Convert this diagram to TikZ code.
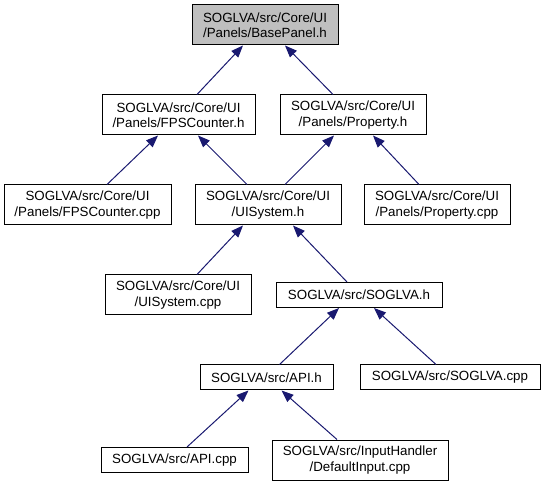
\documentclass[tikz,border=0pt]{standalone}
\usepackage{fontspec}
\setmainfont{Liberation Sans}
\usetikzlibrary{arrows.meta,calc}
\definecolor{edgeblue}{HTML}{191970}
\definecolor{basegray}{HTML}{BFBFBF}
\tikzset{
  box/.style={draw=black, line width=0.75pt, fill=white, align=center,
    inner sep=0pt, font=\fontsize{10}{11.5}\selectfont},
  two/.style={minimum height=30pt},
  one/.style={minimum height=18.75pt},
  bw/.style={minimum width=#1*0.75pt},
  edge/.style={draw=edgeblue, line width=0.75pt,
    -{Triangle[length=9pt,width=7pt,fill=edgeblue]}}
}
\begin{document}
\begin{tikzpicture}[x=0.75pt,y=-0.75pt]
\useasboundingbox (0,0) rectangle (546,484);
% rank 1
\node[box,two,bw=146,fill=basegray] (base) at (265,25) {SOGLVA/src/Core/UI\\/Panels/BasePanel.h};
% rank 2
\node[box,two,bw=153] (fpsh) at (178.5,115) {SOGLVA/src/Core/UI\\/Panels/FPSCounter.h};
\node[box,two,bw=146] (proph) at (353,115) {SOGLVA/src/Core/UI\\/Panels/Property.h};
% rank 3
\node[box,two,bw=167] (fpscpp) at (87.5,205) {SOGLVA/src/Core/UI\\/Panels/FPSCounter.cpp};
\node[box,two,bw=146] (uish) at (268,205) {SOGLVA/src/Core/UI\\/UISystem.h};
\node[box,two,bw=146] (propcpp) at (437,205) {SOGLVA/src/Core/UI\\/Panels/Property.cpp};
% rank 4
\node[box,two,bw=146] (uicpp) at (178,295) {SOGLVA/src/Core/UI\\/UISystem.cpp};
\node[box,one,bw=166] (sogh) at (359,295) {SOGLVA/src/SOGLVA.h};
% rank 5
\node[box,one,bw=133] (apih) at (266.5,377.5) {SOGLVA/src/API.h};
\node[box,one,bw=180] (sogcpp) at (450,377.5) {SOGLVA/src/SOGLVA.cpp};
% rank 6
\node[box,one,bw=147] (apicpp) at (174.5,460) {SOGLVA/src/API.cpp};
\node[box,two,bw=176] (definput) at (360,460) {SOGLVA/src/InputHandler\\/DefaultInput.cpp};
% edges (child -> parent)
\draw[edge] ($(fpsh.north)+(18.5,0)$) -- ($(base.south)+(-22,0)$);
\draw[edge] ($(proph.north)+(-20,0)$) -- ($(base.south)+(20,0)$);
\draw[edge] ($(fpscpp.north)+(19.5,0)$) -- ($(fpsh.south)+(-20.5,0)$);
\draw[edge] ($(uish.north)+(-21,0)$) -- ($(fpsh.south)+(19.5,0)$);
\draw[edge] ($(uish.north)+(17,0)$) -- ($(proph.south)+(-19,0)$);
\draw[edge] ($(propcpp.north)+(-18,0)$) -- ($(proph.south)+(20,0)$);
\draw[edge] ($(uicpp.north)+(19,0)$) -- ($(uish.south)+(-25,0)$);
\draw[edge] ($(sogh.north)+(-12,0)$) -- ($(uish.south)+(25,0)$);
\draw[edge] ($(apih.north)+(13,0)$) -- ($(sogh.south)+(-20,0)$);
\draw[edge] ($(sogcpp.north)+(-14,0)$) -- ($(sogh.south)+(15,0)$);
\draw[edge] ($(apicpp.north)+(12.5,0)$) -- ($(apih.south)+(-18,0)$);
\draw[edge] ($(definput.north)+(-23,0)$) -- ($(apih.south)+(15,0)$);
\end{tikzpicture}
\end{document}
